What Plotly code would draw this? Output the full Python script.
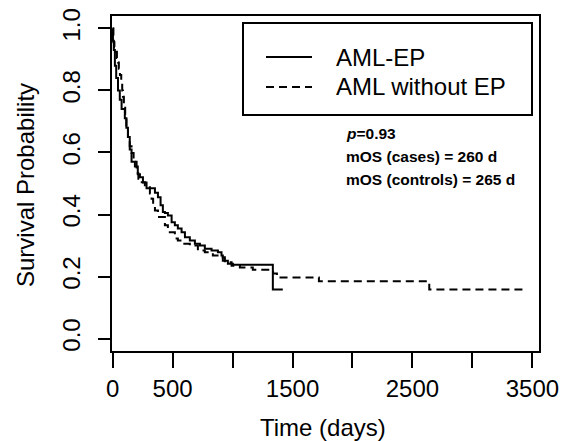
import plotly.graph_objects as go

# ---- data ----
cases_days = [0, 3, 10, 19, 30, 45, 60, 75, 102, 115, 128, 143, 158, 186, 210, 228, 253, 283,
              353, 378, 400, 419, 436, 461, 492, 519, 544, 575, 603, 644, 686, 728, 769, 825,
              878, 908, 919, 961, 1003, 1336, 1419]
cases_surv = [1.0, 0.96, 0.93, 0.88, 0.84, 0.80, 0.77, 0.74, 0.71, 0.68, 0.65, 0.61, 0.57, 0.555,
              0.53, 0.52, 0.503, 0.485, 0.47, 0.456, 0.43, 0.408, 0.405, 0.397, 0.375, 0.365,
              0.355, 0.343, 0.327, 0.316, 0.306, 0.30, 0.29, 0.284, 0.278, 0.268, 0.251, 0.241,
              0.238, 0.158, 0.158]

controls_days = [0, 7, 15, 28, 36, 44, 52, 61, 72, 80, 86, 94, 105, 115, 128, 143, 158, 175, 200,
                 215, 228, 269, 311, 325, 338, 353, 378, 436, 461, 519, 544, 586, 644, 711, 769,
                 836, 894, 936, 992, 1061, 1169, 1311, 1338, 1370, 1720, 2640, 3436]
controls_surv = [1.0, 0.955, 0.94, 0.925, 0.905, 0.89, 0.87, 0.85, 0.825, 0.80, 0.78, 0.75, 0.72,
                 0.68, 0.64, 0.62, 0.598, 0.57, 0.533, 0.515, 0.504, 0.488, 0.468, 0.451, 0.43,
                 0.413, 0.392, 0.365, 0.343, 0.323, 0.316, 0.306, 0.30, 0.284, 0.278, 0.268,
                 0.262, 0.246, 0.235, 0.229, 0.222, 0.219, 0.21, 0.197, 0.185, 0.158, 0.158]

series_names = ["AML-EP", "AML without EP"]
x_tick_values = [0, 500, 1000, 1500, 2000, 2500, 3000, 3500]
x_tick_labels = ["0", "500", "", "1500", "", "2500", "", "3500"]
y_tick_values = [0.0, 0.2, 0.4, 0.6, 0.8, 1.0]
y_tick_labels = ["0.0", "0.2", "0.4", "0.6", "0.8", "1.0"]
stats_lines = ["<i>p</i>=0.93", "mOS (cases) = 260 d", "mOS (controls) = 265 d"]

# ---- layout constants (screen pixels of the reference) ----
OFF = 8                      # page body margin of the browser
W, H = 568 - OFF, 441 - OFF
PL, PR, PT, PB = 112, 539, 16, 351   # plot-area edges on screen
PW, PH = PR - PL, PB - PT
L, T = PL - OFF, PT - OFF
R, B = W - L - PW, H - T - PH


def px(x):
    return (x - PL) / PW


def py(y):
    return (PB - y) / PH


FONT = "Liberation Sans, Arial, Helvetica, sans-serif"
DASH = "8px,5px"

fig = go.Figure()
fig.add_trace(go.Scatter(x=cases_days, y=cases_surv, mode="lines", name=series_names[0],
                         line=dict(color="black", width=2, shape="hv"), showlegend=False))
fig.add_trace(go.Scatter(x=controls_days, y=controls_surv, mode="lines", name=series_names[1],
                         line=dict(color="black", width=2, shape="hv", dash=DASH),
                         showlegend=False))

axis_common = dict(showline=True, linecolor="black", linewidth=2, mirror=True,
                   ticks="outside", tickcolor="black", tickwidth=2,
                   showgrid=False, zeroline=False,
                   tickfont=dict(family=FONT, size=24, color="black"))

fig.update_xaxes(range=[-5, 3555], tickvals=x_tick_values, ticktext=x_tick_labels,
                 ticklen=15, **axis_common)
fig.update_yaxes(range=[-0.04, 1.04], tickvals=y_tick_values, ticktext=y_tick_labels,
                 ticklen=12, tickangle=-90, ticklabelstandoff=8, **axis_common)

shapes = []
annotations = []

# legend box (R style)
shapes.append(dict(type="rect", xref="paper", yref="paper",
                   x0=px(243), x1=px(532), y0=py(115), y1=py(23),
                   line=dict(color="black", width=2), fillcolor="white", layer="below"))
for i, (name, yc) in enumerate(zip(series_names, [57, 87])):
    shapes.append(dict(type="line", xref="paper", yref="paper",
                       x0=px(266), x1=px(312), y0=py(yc), y1=py(yc),
                       line=dict(color="black", width=2, dash="solid" if i == 0 else DASH)))
    annotations.append(dict(text=name, xref="paper", yref="paper", x=px(334), y=py(yc),
                            xanchor="left", yanchor="middle", showarrow=False,
                            font=dict(family=FONT, size=24, color="black")))

# statistics text
for txt, yc in zip(stats_lines, [133, 156, 179]):
    annotations.append(dict(text="<b>" + txt + "</b>", xref="paper", yref="paper",
                            x=px(344), y=py(yc), xanchor="left", yanchor="middle",
                            showarrow=False,
                            font=dict(family=FONT, size=15.5, color="black")))

# axis titles
annotations.append(dict(text="Time (days)", xref="paper", yref="paper",
                        x=px(323), y=py(427), xanchor="center", yanchor="middle",
                        showarrow=False, font=dict(family=FONT, size=24, color="black")))
annotations.append(dict(text="Survival Probability", xref="paper", yref="paper",
                        x=px(25), y=py(185), xanchor="center", yanchor="middle",
                        textangle=-90, showarrow=False,
                        font=dict(family=FONT, size=24, color="black")))

fig.update_layout(width=W, height=H, margin=dict(l=L, r=R, t=T, b=B, autoexpand=False),
                  paper_bgcolor="white", plot_bgcolor="white",
                  shapes=shapes, annotations=annotations, showlegend=False)

fig.write_html("out.html")
